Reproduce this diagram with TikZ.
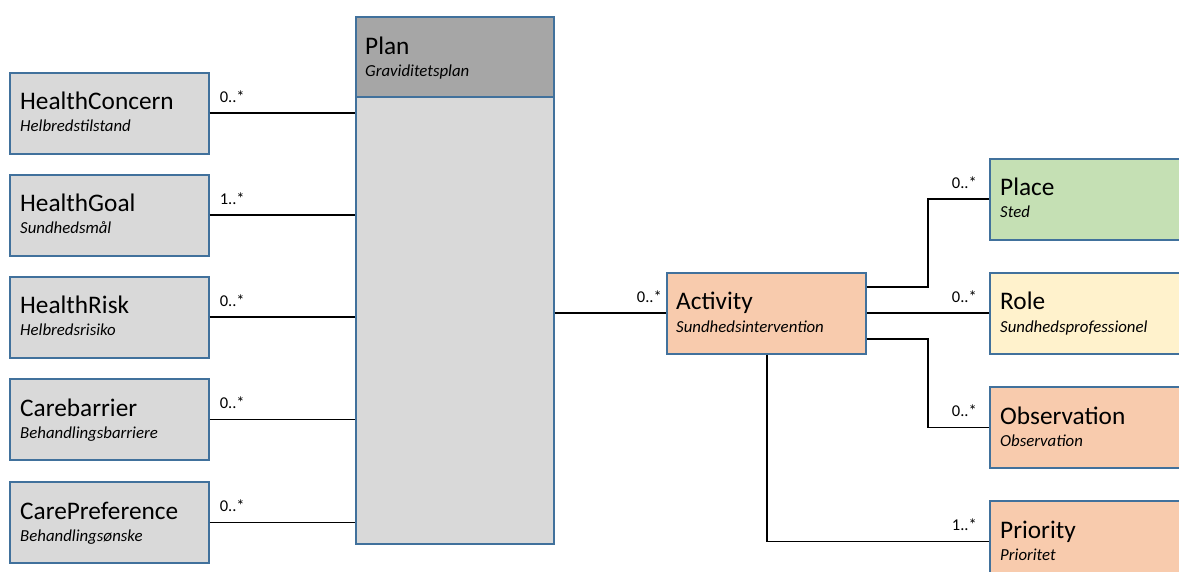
\documentclass[tikz,border=0pt]{standalone}
\usepackage{fontspec}
\setmainfont{Carlito}
\usetikzlibrary{calc}
\definecolor{boxline}{HTML}{41719C}
\definecolor{greyfill}{HTML}{D9D9D9}
\definecolor{darkgrey}{HTML}{A6A6A6}
\definecolor{greenfill}{HTML}{C5E0B4}
\definecolor{yellowfill}{HTML}{FFF2CC}
\definecolor{peachfill}{HTML}{F8CBAD}
\tikzset{
  classbox/.style={draw=boxline, line width=1.6pt, rectangle, inner sep=0pt,
    anchor=north west, minimum width=199pt, minimum height=81pt},
  titletext/.style={anchor=base west, inner sep=0pt, font=\fontsize{25.3}{28}\selectfont},
  subtext/.style={anchor=base west, inner sep=0pt, font=\fontsize{16.8}{19}\selectfont\itshape},
  multleft/.style={anchor=base west, inner sep=0pt, font=\fontsize{16.5}{19}\selectfont},
  multright/.style={anchor=base east, inner sep=0pt, font=\fontsize{16.5}{19}\selectfont},
  assoc/.style={draw=black, line width=1.6pt},
}
\begin{document}
\begin{tikzpicture}[x=1pt, y=-1pt]
\clip (0,0) rectangle (1179,572);
\fill[white] (0,0) rectangle (1179,572);

% Plan with header and body compartments
\node[classbox, fill=greyfill, minimum width=198pt, minimum height=527pt] (plan) at (355,16) {};
\node[classbox, fill=darkgrey, minimum width=198pt, minimum height=80pt] (planhead) at (355,16) {};
\node[titletext] (plant) at ($(planhead.north west)+(10,39)$) {Plan};
\node[subtext] (plans) at ($(planhead.north west)+(10,61)$) {Graviditetsplan};

% Left-hand classes
\node[classbox, fill=greyfill] (hc) at (9,72) {};
\node[titletext] (hct) at ($(hc.north west)+(11,38)$) {HealthConcern};
\node[subtext] (hcs) at ($(hc.north west)+(11,60)$) {Helbredstilstand};

\node[classbox, fill=greyfill] (hg) at (9,174) {};
\node[titletext] (hgt) at ($(hg.north west)+(11,38)$) {HealthGoal};
\node[subtext] (hgs) at ($(hg.north west)+(11,60)$) {Sundhedsmål};

\node[classbox, fill=greyfill] (hr) at (9,276) {};
\node[titletext] (hrt) at ($(hr.north west)+(11,38)$) {HealthRisk};
\node[subtext] (hrs) at ($(hr.north west)+(11,60)$) {Helbredsrisiko};

\node[classbox, fill=greyfill] (cb) at (9,378) {};
\node[titletext] (cbt) at ($(cb.north west)+(11,38)$) {Carebarrier};
\node[subtext] (cbs) at ($(cb.north west)+(11,60)$) {Behandlingsbarriere};

\node[classbox, fill=greyfill] (cp) at (9,481) {};
\node[titletext] (cpt) at ($(cp.north west)+(11,38)$) {CarePreference};
\node[subtext] (cps) at ($(cp.north west)+(11,60)$) {Behandlingsønske};

% Activity
\node[classbox, fill=peachfill] (act) at (666,272) {};
\node[titletext] (actt) at ($(act.north west)+(10,38)$) {Activity};
\node[subtext] (acts) at ($(act.north west)+(10,61)$) {Sundhedsintervention};

% Right-hand classes
\node[classbox, fill=greenfill, minimum width=210pt] (place) at (989,158) {};
\node[titletext] (placet) at ($(place.north west)+(11,38)$) {Place};
\node[subtext] (places) at ($(place.north west)+(11,60)$) {Sted};

\node[classbox, fill=yellowfill, minimum width=210pt] (role) at (989,272) {};
\node[titletext] (rolet) at ($(role.north west)+(11,38)$) {Role};
\node[subtext] (roles) at ($(role.north west)+(11,60)$) {Sundhedsprofessionel};

\node[classbox, fill=peachfill, minimum width=210pt] (obs) at (989,386) {};
\node[titletext] (obst) at ($(obs.north west)+(11,38)$) {Observation};
\node[subtext] (obss) at ($(obs.north west)+(11,60)$) {Observation};

\node[classbox, fill=peachfill, minimum width=210pt] (prio) at (989,500) {};
\node[titletext] (priot) at ($(prio.north west)+(11,38)$) {Priority};
\node[subtext] (prios) at ($(prio.north west)+(11,60)$) {Prioritet};

% Associations to Plan
\draw[assoc] (hc.east) -- (hc.east -| plan.west);
\draw[assoc] (hg.east) -- (hg.east -| plan.west);
\draw[assoc] (hr.east) -- (hr.east -| plan.west);
\draw[assoc] (cb.east) -- (cb.east -| plan.west);
\draw[assoc] (cp.east) -- (cp.east -| plan.west);
\node[multleft] (mhc) at ($(hc.east)+(10,-11)$) {0..*};
\node[multleft] (mhg) at ($(hg.east)+(10,-11)$) {1..*};
\node[multleft] (mhr) at ($(hr.east)+(10,-11)$) {0..*};
\node[multleft] (mcb) at ($(cb.east)+(10,-11)$) {0..*};
\node[multleft] (mcp) at ($(cp.east)+(10,-11)$) {0..*};

% Plan to Activity
\draw[assoc] (act.west -| plan.east) -- (act.west);
\node[multright] (mact) at ($(act.west)+(-4,-11)$) {0..*};

% Activity to the right-hand classes
\coordinate (aplace) at ($(act.east)+(0,-26)$);
\coordinate (aobs) at ($(act.east)+(0,26)$);
\coordinate (aprio) at ($(act.south west)+(101,0)$);
\draw[assoc] (aplace) -- (aplace -| 928,0) |- (place.west);
\draw[assoc] (act.east) -- (act.east -| role.west);
\draw[assoc] (aobs) -- (aobs -| 928,0) |- (obs.west);
\draw[assoc] (aprio) |- (prio.west);
\node[multright] (mplace) at ($(place.west)+(-12,-11)$) {0..*};
\node[multright] (mrole) at ($(act.east -| role.west)+(-12,-11)$) {0..*};
\node[multright] (mobs) at ($(obs.west)+(-12,-11)$) {0..*};
\node[multright] (mprio) at ($(prio.west)+(-12,-11)$) {1..*};
\end{tikzpicture}
\end{document}
